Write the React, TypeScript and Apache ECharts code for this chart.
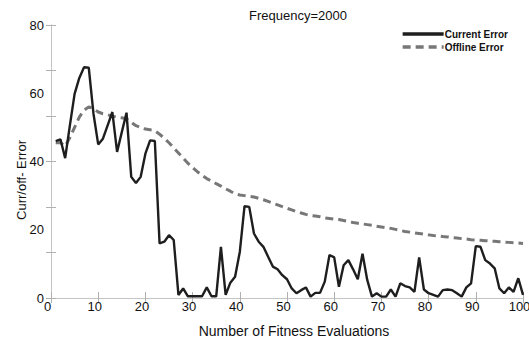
import React, { useEffect, useRef } from "react";
import * as echarts from "echarts";

const titleText = "Frequency=2000";
const xAxisName = "Number of Fitness Evaluations";
const yAxisName = "Curr/off- Error";
const seriesNames = ["Current Error", "Offline Error"];

const currentError = [
  46, 46.5, 41, 50.6, 59.8, 64.5, 67.6, 67.5, 54, 45,
  46.7, 50.6, 54.5, 42.8, 48.6, 54.3, 35.5, 33.7, 35.5, 42.3,
  46.2, 46, 16, 16.5, 18.4, 17, 0.9, 2.8, 0.5, 0.5,
  0.5, 0.5, 3.1, 0.5, 0.5, 15, 0.9, 4.5, 6.2, 13.5,
  26.9, 26.7, 18.9, 16.5, 15, 12.1, 9.2, 8.4, 6.7, 5.5,
  2.8, 1.4, 2.3, 3.1, 0.4, 1.5, 1.5, 4.8, 12.6, 11.9,
  3.3, 9.6, 11.1, 8.4, 5.5, 13, 5.3, 0.4, 1.4, 0.4,
  0.4, 2.5, 0.4, 4.3, 3.5, 3.1, 1.8, 11.9, 2.5, 1.4,
  0.9, 0.4, 2.3, 2.5, 2.3, 1.4, 0.4, 3.1, 4.3, 15.2,
  15, 11.1, 10.1, 8.7, 2.8, 1.4, 3.1, 1.8, 5.8, 0.9,
];

const offlineError = [
  45.5, 45.5, 44.5, 47, 50, 53, 55, 56, 55.5, 54.5,
  54, 53.7, 53.3, 53, 52.8, 52.5, 51.5, 50.5, 50, 49.5,
  49.3, 49, 48, 46.8, 45.5, 44, 42.5, 41, 39.5, 38.2,
  37, 36, 35, 34.3, 33.5, 32.8, 32, 31.3, 30.5, 30.2,
  30, 29.8, 29.6, 29.2, 28.8, 28.3, 27.8, 27.3, 26.8, 26.3,
  25.8, 25.3, 24.9, 24.5, 24.2, 24, 23.8, 23.5, 23.3, 23.1,
  23, 22.7, 22.4, 22.1, 21.9, 21.7, 21.5, 21.3, 21, 20.8,
  20.6, 20.4, 20.1, 19.8, 19.5, 19.3, 19.1, 18.9, 18.7, 18.5,
  18.3, 18.2, 18, 17.9, 17.7, 17.6, 17.4, 17.3, 17.1, 17,
  16.9, 16.8, 16.7, 16.6, 16.5, 16.4, 16.3, 16.2, 16.1, 16,
];

const yLabelValues = [0, 20, 40, 60, 80];
const yTickValues = [0, 80 / 6, 160 / 6, 40, 320 / 6, 400 / 6, 80];

export default function App() {
  const ref = useRef<HTMLDivElement>(null);

  useEffect(() => {
    if (!ref.current) return;
    const chart = echarts.init(ref.current, null, { renderer: "svg" });
    const axisGray = "#c4c4c4";
    const tickGray = "#b0b0b0";
    const font = "Arial, 'Liberation Sans', sans-serif";

    chart.setOption({
      animation: false,
      backgroundColor: "#ffffff",
      title: {
        text: titleText,
        left: 244,
        top: 4,
        textStyle: { fontFamily: font, fontSize: 13, fontWeight: "normal", color: "#111" },
      },
      legend: {
        orient: "vertical",
        right: 9,
        top: 27,
        padding: [2, 12, 4, 2],
        backgroundColor: "#ffffff",
        itemWidth: 41,
        itemHeight: 9,
        itemGap: 3,
        itemStyle: { opacity: 0, borderWidth: 0 },
        lineStyle: { width: 3.5 },
        textStyle: { fontFamily: font, fontSize: 10, fontWeight: "bold", color: "#111", padding: [0, 0, 0, -4] },
        data: seriesNames,
      },
      grid: { left: 51, right: 6, top: 25, bottom: 46, outerBoundsMode: "none", containLabel: false },
      xAxis: [
        {
          type: "value",
          min: 0,
          max: 100,
          interval: 10,
          position: "bottom",
          name: xAxisName,
          nameLocation: "middle",
          nameGap: 26,
          nameTextStyle: { fontFamily: font, fontSize: 14, color: "#111", padding: [0, 0, 0, 14] },
          axisLine: { show: true, lineStyle: { color: axisGray, width: 1 } },
          axisTick: { show: true, inside: true, length: 6, lineStyle: { color: tickGray } },
          axisLabel: { fontFamily: font, fontSize: 13, color: "#111", margin: 2, padding: [0, 7, 0, 0] },
          splitLine: { show: false },
        },
        {
          type: "value",
          min: 0,
          max: 100,
          interval: 10,
          position: "top",
          axisLine: { show: true, lineStyle: { color: axisGray, width: 1 } },
          axisTick: { show: true, inside: true, length: 5, lineStyle: { color: tickGray } },
          axisLabel: { show: false },
          splitLine: { show: false },
        },
      ],
      yAxis: [
        {
          type: "value",
          min: 0,
          max: 80,
          position: "left",
          name: yAxisName,
          nameLocation: "middle",
          nameGap: 23,
          nameMoveOverlap: false,
          nameTextStyle: { fontFamily: font, fontSize: 13, color: "#111", padding: [0, 37, 0, 0] },
          axisLine: { show: true, lineStyle: { color: axisGray, width: 1 } },
          axisTick: { show: true, inside: true, length: 5, lineStyle: { color: tickGray }, customValues: yTickValues },
          axisLabel: { fontFamily: font, fontSize: 13, color: "#111", margin: 7, customValues: yLabelValues },
          splitLine: { show: false },
        },
        {
          type: "value",
          min: 0,
          max: 80,
          position: "right",
          axisLine: { show: true, lineStyle: { color: axisGray, width: 1 } },
          axisTick: { show: true, inside: true, length: 5, lineStyle: { color: tickGray }, customValues: yTickValues },
          axisLabel: { show: false },
          splitLine: { show: false },
        },
      ],
      series: [
        {
          name: seriesNames[0],
          type: "line",
          xAxisIndex: 0,
          yAxisIndex: 0,
          symbol: "none",
          lineStyle: { color: "#1e1e1e", width: 2.4 },
          itemStyle: { color: "#1e1e1e" },
          data: currentError.map((v, i) => [i + 1, v]),
          z: 3,
        },
        {
          name: seriesNames[1],
          type: "line",
          xAxisIndex: 0,
          yAxisIndex: 0,
          symbol: "none",
          lineStyle: { color: "#777777", width: 3, type: [8, 5] },
          itemStyle: { color: "#777777" },
          data: offlineError.map((v, i) => [i + 1, v]),
          z: 2,
        },
      ],
    });

    return () => chart.dispose();
  }, []);

  return <div ref={ref} style={{ width: 529, height: 344, position: "absolute", left: 0, top: 0 }} />;
}
